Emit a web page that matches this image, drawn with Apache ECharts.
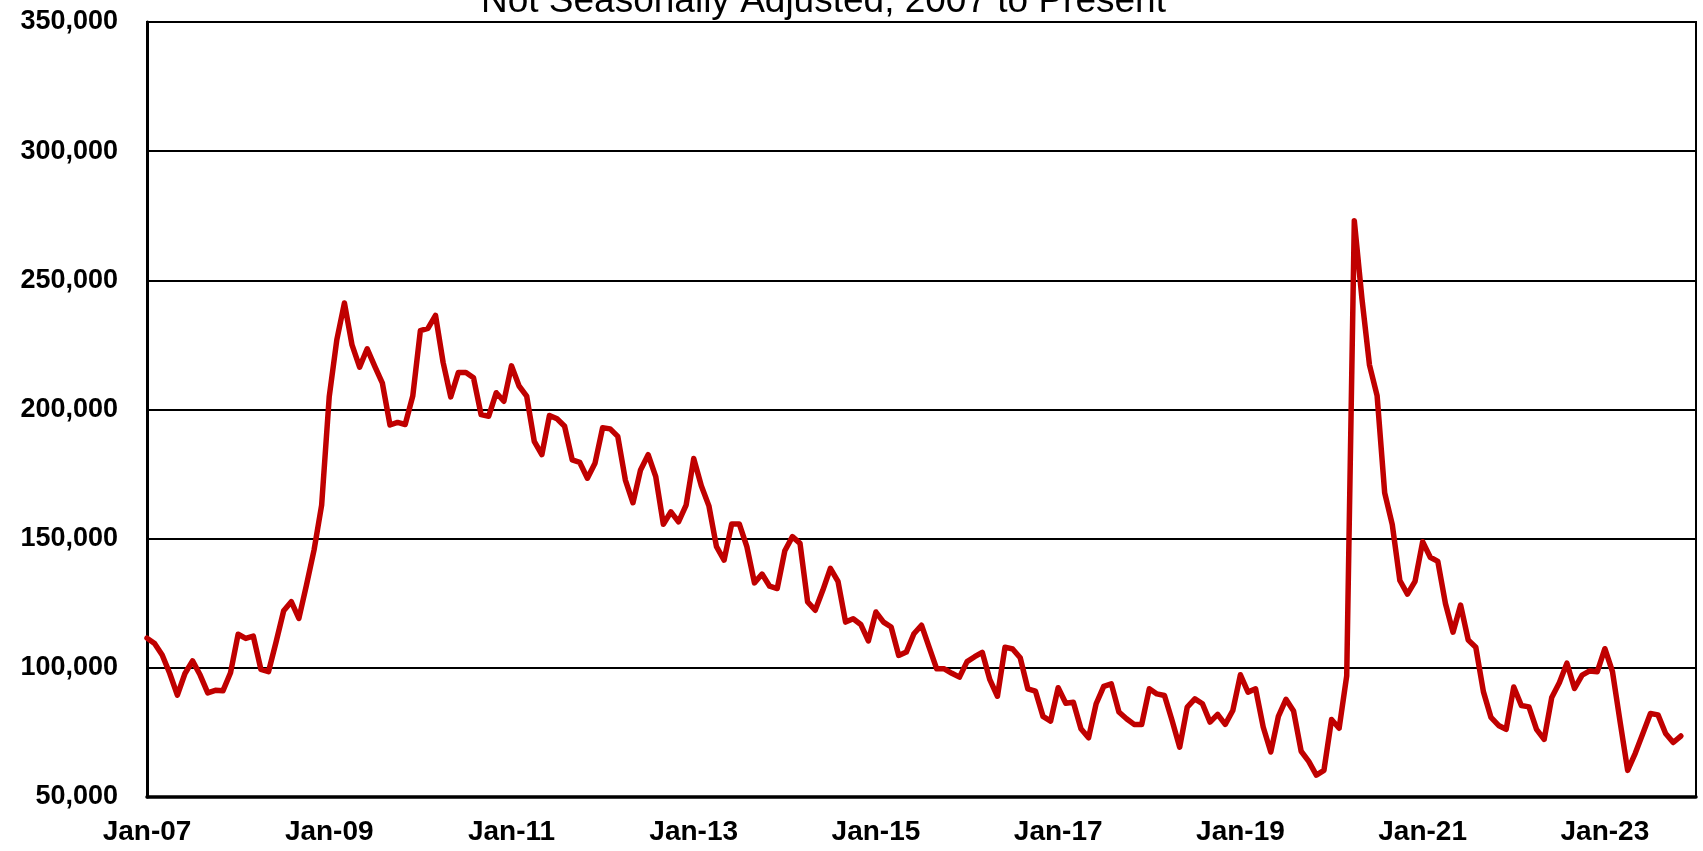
<!DOCTYPE html>
<html>
<head>
<meta charset="utf-8">
<script src="https://cdn.jsdelivr.net/npm/echarts@6/dist/echarts.min.js"></script>
<style>
  html, body { margin: 0; padding: 0; background: #fff; }
  #main { width: 1703px; height: 851px; }
</style>
</head>
<body>
<div id="main"></div>
<script>
// months on the x axis, Jan-07 through Jan-24
var monthNames = ['Jan', 'Feb', 'Mar', 'Apr', 'May', 'Jun', 'Jul', 'Aug', 'Sep', 'Oct', 'Nov', 'Dec'];
var years = ['07', '08', '09', '10', '11', '12', '13', '14', '15', '16', '17', '18', '19', '20', '21', '22', '23', '24'];

// monthly values, Jan-07 .. Nov-23
var claims = [
  111500, 109400, 105000, 97800, 89400, 97800, 102700, 97200, 90300, 91300, 91100, 98100,
  113000, 111400, 112300, 99400, 98500, 110000, 122100, 125600, 119100, 132000, 145600, 163000,
  205000, 227000, 241200, 225000, 216400, 223500, 216700, 210200, 194000, 195000, 194200, 205200,
  230500, 231400, 236400, 218200, 204900, 214300, 214300, 212300, 198000, 197400, 206500, 203200,
  216900, 209100, 205200, 187700, 182500, 197700, 196400, 193500, 180500, 179500, 173400, 179200,
  192900, 192500, 189600, 172700, 163900, 176600, 182500, 174000, 155600, 160400, 156500, 163000,
  181000, 170500, 162700, 146900, 141700, 155700, 155700, 146900, 132900, 136300, 131600, 130700,
  145300, 150800, 148200, 125500, 122300, 130000, 138500, 133500, 117700, 119000, 116800, 110400,
  121600, 117700, 115800, 104800, 106100, 113200, 116500, 108000, 99600, 99600, 97900, 96400,
  102400, 104300, 106000, 95400, 89000, 108000, 107300, 103900, 91900, 91000, 81200, 79400,
  92300, 86300, 86700, 76400, 72900, 86100, 92800, 93800, 82900, 80300, 78100, 78100,
  91900, 89900, 89300, 79600, 69300, 84800, 88000, 86100, 79000, 82000, 78100, 83500,
  97300, 90600, 91900, 77100, 67400, 81200, 87800, 83300, 67700, 63800, 58500, 60300,
  80000, 76600, 96900, 273100, 243100, 217200, 205400, 167700, 155400, 133800, 128500, 133500,
  148800, 142800, 141200, 124900, 113800, 124300, 110800, 108000, 90800, 80800, 77700, 76200,
  92600, 85400, 84900, 76200, 72300, 88500, 94200, 101800, 92000, 97200, 98800, 98500,
  107400, 98500, 79200, 60300, 66900, 74600, 82300, 81800, 74600, 71100, 73600
];

var categories = [];
years.forEach(function (y, i) {
  monthNames.forEach(function (m) {
    if (i < years.length - 1 || m === 'Jan') categories.push(m + '-' + y);
  });
});

var yMin = 50000, yMax = 350000, yStep = 50000;
var font = '"Liberation Sans", Arial, sans-serif';

var myChart = echarts.init(document.getElementById('main'));
myChart.setOption({
  animation: false,
  title: {
    text: 'Not Seasonally Adjusted, 2007 to Present',
    left: 476,
    top: -22,
    textStyle: { fontFamily: font, fontSize: 37, fontWeight: 'normal', color: '#000' }
  },
  grid: {
    left: 147, right: 7, top: 22, bottom: 54,
    show: true, borderColor: '#000', borderWidth: 2
  },
  xAxis: {
    type: 'category',
    data: categories,
    boundaryGap: false,
    axisLine: { lineStyle: { color: '#000', width: 3.5 } },
    axisTick: { show: false },
    axisLabel: {
      interval: 23,
      margin: 21,
      color: '#000',
      fontFamily: font,
      fontSize: 28,
      fontWeight: 'bold'
    },
    splitLine: { show: false }
  },
  yAxis: {
    type: 'value',
    min: yMin,
    max: yMax,
    interval: yStep,
    axisLine: { show: true, lineStyle: { color: '#000', width: 3 } },
    axisTick: { show: false },
    axisLabel: {
      margin: 29,
      color: '#000',
      fontFamily: font,
      fontSize: 27,
      fontWeight: 'bold',
      formatter: function (v) { return v.toLocaleString('en-US'); }
    },
    splitLine: { lineStyle: { color: '#000', width: 2.2 } }
  },
  series: [
    {
      type: 'line',
      data: claims,
      symbol: 'none',
      lineStyle: { color: '#C00000', width: 5.5, join: 'round', cap: 'round' }
    }
  ]
});
</script>
</body>
</html>
